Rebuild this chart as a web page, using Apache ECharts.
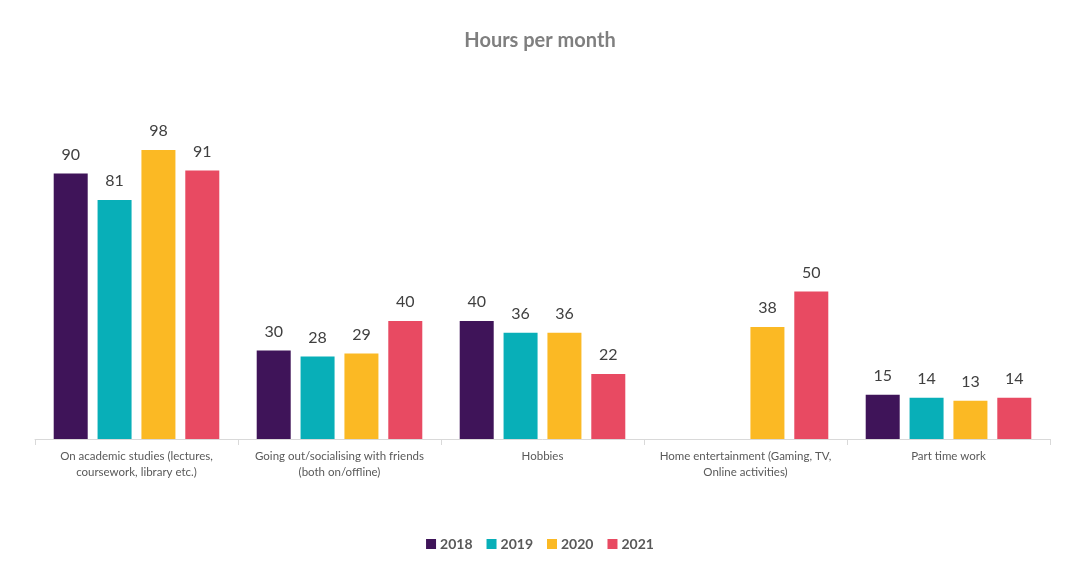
<!DOCTYPE html>
<html><head><meta charset="utf-8">
<script src="https://cdn.jsdelivr.net/npm/echarts@6/dist/echarts.min.js"></script>
<style>html,body{margin:0;padding:0;background:#fff}#c{width:1080px;height:573px}</style>
</head><body><div id="c"></div>
<script>
const categories = [
  "On academic studies (lectures,\ncoursework, library etc.)",
  "Going out/socialising with friends\n(both on/offline)",
  "Hobbies",
  "Home entertainment (Gaming, TV,\nOnline activities)",
  "Part time work"
];
const years = ["2018", "2019", "2020", "2021"];
const v2018 = [90, 30, 40, null, 15];
const v2019 = [81, 28, 36, null, 14];
const v2020 = [98, 29, 36, 38, 13];
const v2021 = [91, 40, 22, 50, 14];
const colors = ["#3f1459", "#08afb8", "#fbb924", "#e84a62"];
const allValues = [v2018, v2019, v2020, v2021];
const font = "Lato, 'Open Sans', sans-serif";

const chart = echarts.init(document.getElementById('c'));
chart.setOption({
  animation: false,
  title: {
    text: "Hours per month", left: 'center', top: 26,
    textStyle: {fontFamily: font, fontSize: 20, fontWeight: 'bold', color: '#7f7f7f'}
  },
  legend: {
    data: years, bottom: 17, left: 'center', itemWidth: 10, itemHeight: 10, itemGap: 14,
    icon: 'rect',
    textStyle: {fontFamily: font, fontSize: 14, fontWeight: 'bold', color: '#595959', padding: [0, 0, 0, -1]}
  },
  grid: {left: 35, right: 30, top: 144, height: 295, containLabel: false},
  xAxis: {
    type: 'category', data: categories,
    axisLine: {lineStyle: {color: '#d9d9d9', width: 1}},
    axisTick: {show: true, length: 6, lineStyle: {color: '#d9d9d9'}},
    axisLabel: {fontFamily: font, fontSize: 11.5, color: '#595959', lineHeight: 16, margin: 9, interval: 0}
  },
  yAxis: {type: 'value', min: 0, max: 100, show: false, splitLine: {show: false}},
  series: allValues.map((vals, i) => ({
    name: years[i], type: 'bar', data: vals, barWidth: 34, barGap: '29%',
    itemStyle: {color: colors[i]},
    label: {show: true, position: 'top', distance: 11, fontFamily: font, fontSize: 16, color: '#404040'}
  }))
});
</script></body></html>
